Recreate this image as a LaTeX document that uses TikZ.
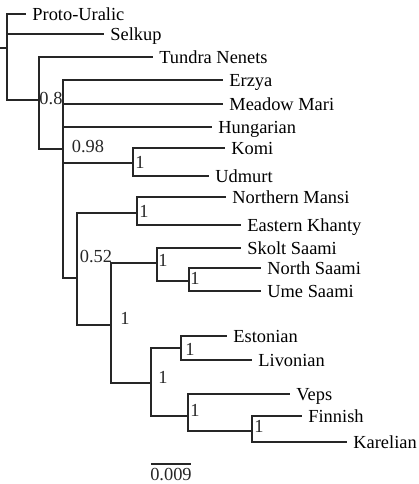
\documentclass[tikz,border=0pt]{standalone}
\usepackage{fontspec}
\setmainfont{Liberation Serif}
\newfontfamily\treefont{Liberation Serif}
\usetikzlibrary{positioning}
\tikzset{
  branch/.style  = {draw=black!85, line width=0.6pt},
  taxon/.style   = {anchor=west, inner sep=3pt, text height=0.66em, text depth=0pt,
                    font=\treefont\fontsize{9.2}{11}\selectfont},
  support/.style = {inner sep=0pt, text height=0.66em, text depth=0pt,
                    font=\treefont\fontsize{9.2}{11}\selectfont, text=black!85}
}

\begin{document}
\begin{tikzpicture}[x=0.5pt, y=-0.5pt]
	  \useasboundingbox (0,0) rectangle (419,484);

	  % inner nodes of the tree
	  \coordinate (root) at (7,48);
	  \coordinate (n39)  at (39,100);
	  \coordinate (n63)  at (63,149);
	  \coordinate (n133) at (133,163);
	  \coordinate (n77)  at (77,278);
	  \coordinate (n137) at (137,213);
	  \coordinate (n111) at (111,325);
	  \coordinate (n157) at (157,263);
	  \coordinate (n189) at (189,281);
	  \coordinate (n151) at (151,383);
	  \coordinate (n181) at (181,348);
	  \coordinate (n188) at (188,416);
	  \coordinate (n252) at (252,431);
	  \coordinate (stub) at (0,48);

	  % the leaves, placed at the end of their branch
	  \begin{scope}[every node/.style={taxon}]
	  \node (proto)  at (26,14)  {Proto-Uralic};
	  \node (selkup) at (104,34) {Selkup};
	  \node (tundra) at (153,57) {Tundra Nenets};
	  \node (erzya)  at (223,80) {Erzya};
	  \node (mari)   at (223,104) {Meadow Mari};
	  \node (hung)   at (212,127) {Hungarian};
	  \node (komi)   at (225,148) {Komi};
	  \node (udmurt) at (209,176) {Udmurt};
	  \node (mansi)  at (226,197) {Northern Mansi};
	  \node (khanty) at (241,225) {Eastern Khanty};
	  \node (skolt)  at (241,248) {Skolt Saami};
	  \node (north)  at (261,268) {North Saami};
	  \node (ume)    at (261,291) {Ume Saami};
	  \node (eston)  at (227,336) {Estonian};
	  \node (livon)  at (252,360) {Livonian};
	  \node (veps)   at (290,394) {Veps};
	  \node (finn)   at (302,416) {Finnish};
	  \node (karel)  at (347,442) {Karelian};
	  \end{scope}

	  % support values
	  \begin{scope}[every node/.style={support}]
	  \node (s39)  at (51,98)   {0.8};
	  \node (s63)  at (88,146)  {0.98};
	  \node (s77)  at (96,256)  {0.52};
	  \node (s133) at (140,162) {1};
	  \node (s137) at (144,211) {1};
	  \node (s157) at (163,260) {1};
	  \node (s189) at (195,278) {1};
	  \node (s111) at (125,318) {1};
	  \node (s181) at (190,349) {1};
	  \node (s151) at (163,377) {1};
	  \node (s188) at (195,410) {1};
	  \node (s252) at (259,426) {1};
	  \end{scope}

	  % branches from each inner node to its children
	  \draw[branch] (stub) -- (root);
	  \foreach \child in {proto.west,selkup.west,n39}
		\draw[branch] (root) |- (\child);
	  \foreach \child in {tundra.west,n63}
		\draw[branch] (n39) |- (\child);
	  \foreach \child in {erzya.west,mari.west,hung.west,n133,n77}
		\draw[branch] (n63) |- (\child);
	  \foreach \child in {komi,udmurt}
		\draw[branch] (n133) |- (\child.west);
	  \foreach \child in {n137,n111}
		\draw[branch] (n77) |- (\child);
	  \foreach \child in {mansi,khanty}
		\draw[branch] (n137) |- (\child.west);
	  \foreach \child in {n157,n151}
		\draw[branch] (n111) |- (\child);
	  \foreach \child in {skolt.west,n189}
		\draw[branch] (n157) |- (\child);
	  \foreach \child in {north,ume}
		\draw[branch] (n189) |- (\child.west);
	  \foreach \child in {n181,n188}
		\draw[branch] (n151) |- (\child);
	  \foreach \child in {eston,livon}
		\draw[branch] (n181) |- (\child.west);
	  \foreach \child in {veps.west,n252}
		\draw[branch] (n188) |- (\child);
	  \foreach \child in {finn,karel}
		\draw[branch] (n252) |- (\child.west);

	  % scale bar
	  \coordinate (bar1) at (151,464);
	  \coordinate (bar2) at (191,464);
	  \draw[branch] (bar1) -- (bar2);
	  \node[support] (barlabel) at (171,474) {0.009};

\end{tikzpicture}
\end{document}
